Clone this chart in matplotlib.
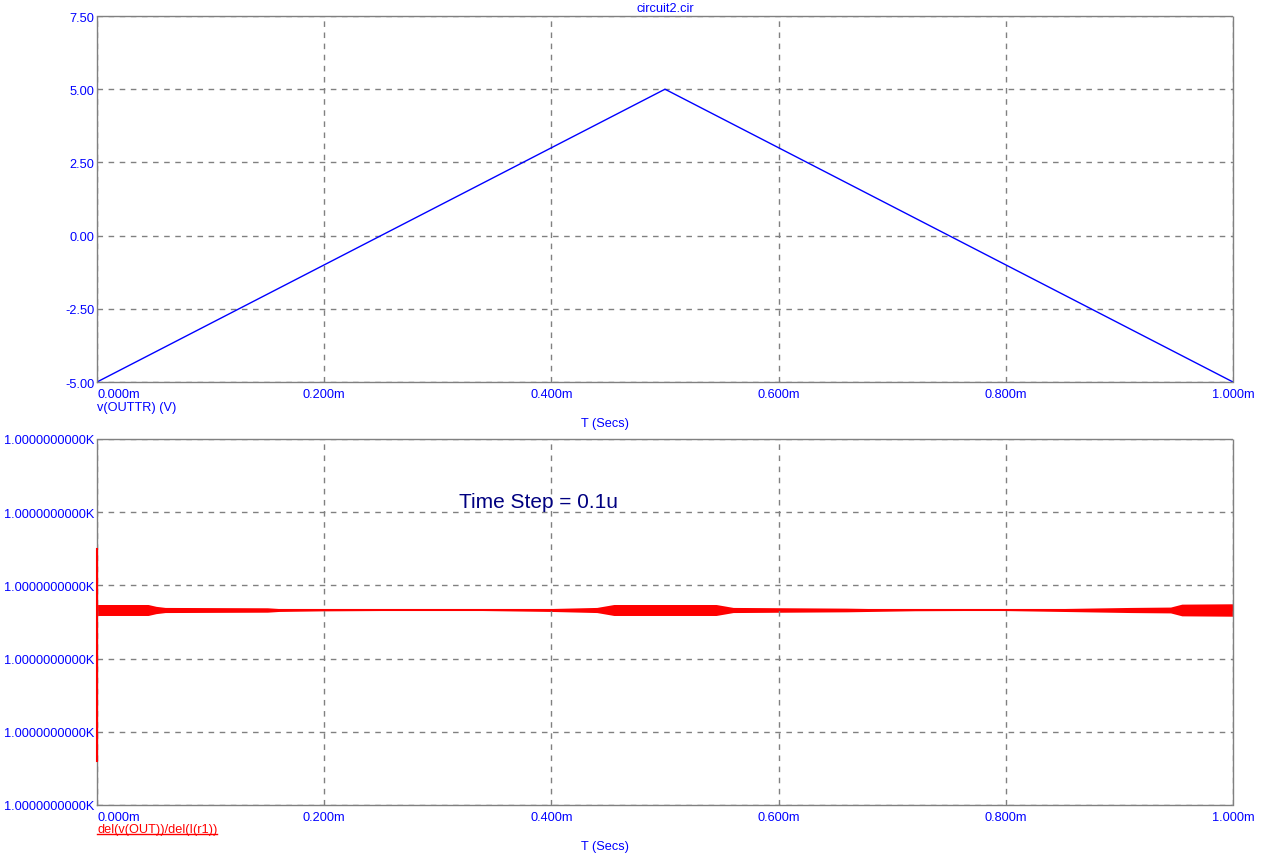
import matplotlib
matplotlib.use("Agg")
import matplotlib.pyplot as plt
from matplotlib.lines import Line2D

plt.rcParams['font.family'] = ['Liberation Sans', 'DejaVu Sans']

# top trace: v(OUTTR) triangle wave (time in ms, volts)
t_top = [0.0, 0.5, 1.0]
v_top = [-5.0, 5.0, -5.0]

# bottom trace: del(v(OUT))/del(I(r1)), plotted on a 0..5 grid-unit scale
# band envelope: time (ms), half-width (grid units)
band_t = [0.0, 0.045, 0.052, 0.060, 0.150, 0.160, 0.197, 0.26, 0.33, 0.40,
          0.44, 0.455, 0.545, 0.56, 0.66, 0.72, 0.79, 0.85, 0.91, 0.945,
          0.955, 1.0]
band_hw = [0.075, 0.075, 0.05, 0.035, 0.03, 0.02, 0.012, 0.006, 0.005, 0.02,
           0.035, 0.075, 0.075, 0.035, 0.025, 0.01, 0.005, 0.02, 0.035, 0.04,
           0.08, 0.085]
band_center = 2.664
spike_t = [0.0, 0.0]
spike_v = [0.6, 3.5]

x_ticks = [0.0, 0.2, 0.4, 0.6, 0.8, 1.0]
x_labels = ['0.000m', '0.200m', '0.400m', '0.600m', '0.800m', '1.000m']
y_top_ticks = [-5.0, -2.5, 0.0, 2.5, 5.0, 7.5]
y_top_labels = ['-5.00', '-2.50', '0.00', '2.50', '5.00', '7.50']
y_bot_ticks = [0, 1, 2, 3, 4, 5]
y_bot_labels = ['1.0000000000K'] * 6

blue = '#0000ff'
grid_col = '#808080'
fs = 9.2

fig = plt.figure(figsize=(12.68, 8.62), dpi=100)
W, H = 1268.0, 862.0


def make_axes(top_px, bot_px):
    ax = fig.add_axes([97 / W, 1 - bot_px / H, (1233 - 97) / W, (bot_px - top_px) / H])
    for s in ax.spines.values():
        s.set_color(grid_col)
        s.set_linestyle((0, (1, 1)))
        s.set_linewidth(1)
    ax.grid(True, color=grid_col, linestyle=(0, (4, 4)), linewidth=1)
    ax.tick_params(length=0, colors=blue, labelsize=fs)
    ax.tick_params(axis='y', pad=2)
    ax.tick_params(axis='x', pad=4)
    ax.set_xlim(0, 1.0)
    ax.set_xticks(x_ticks)
    ax.set_xticklabels(x_labels)
    ax.get_xticklabels()[0].set_horizontalalignment('left')
    return ax


ax1 = make_axes(17, 383)
ax1.plot(t_top, v_top, color=blue, linewidth=1)
ax1.set_ylim(-5, 7.5)
ax1.set_yticks(y_top_ticks)
ax1.set_yticklabels(y_top_labels)

ax2 = make_axes(440, 806)
lo = [band_center - h for h in band_hw]
hi = [band_center + h for h in band_hw]
ax2.fill_between(band_t, lo, hi, color='red', linewidth=0)
ax2.plot([band_t[0], band_t[-1]], [band_center, band_center], color='red', linewidth=1.5)
ax2.plot(spike_t, spike_v, color='red', linewidth=1.5, clip_on=False, zorder=5)
ax2.set_ylim(0, 5)
ax2.set_yticks(y_bot_ticks)
ax2.set_yticklabels(y_bot_labels)

fig.text(665 / W, 1 - 9 / H, 'circuit2.cir', color=blue, fontsize=fs, ha='center', va='center')
fig.text(97 / W, 1 - 408 / H, 'v(OUTTR) (V)', color=blue, fontsize=fs, ha='left', va='center')
fig.text(605 / W, 1 - 424 / H, 'T (Secs)', color=blue, fontsize=fs, ha='center', va='center')
fig.text(605 / W, 1 - 847 / H, 'T (Secs)', color=blue, fontsize=fs, ha='center', va='center')
lbl = fig.text(97 / W, 1 - 830 / H, 'del(v(OUT))/del(I(r1))', color='red', fontsize=fs,
               ha='left', va='center')
fig.text(459 / W, 1 - 503 / H, 'Time Step = 0.1u', color='#000080', fontsize=15,
         ha='left', va='center')

# underline the bottom trace name
fig.canvas.draw()
bb = lbl.get_window_extent().transformed(fig.transFigure.inverted())
fig.add_artist(Line2D([bb.x0, bb.x1], [bb.y0 + 1 / H, bb.y0 + 1 / H], color='red',
                      linewidth=1, transform=fig.transFigure))

fig.savefig('out.png', dpi=100)
